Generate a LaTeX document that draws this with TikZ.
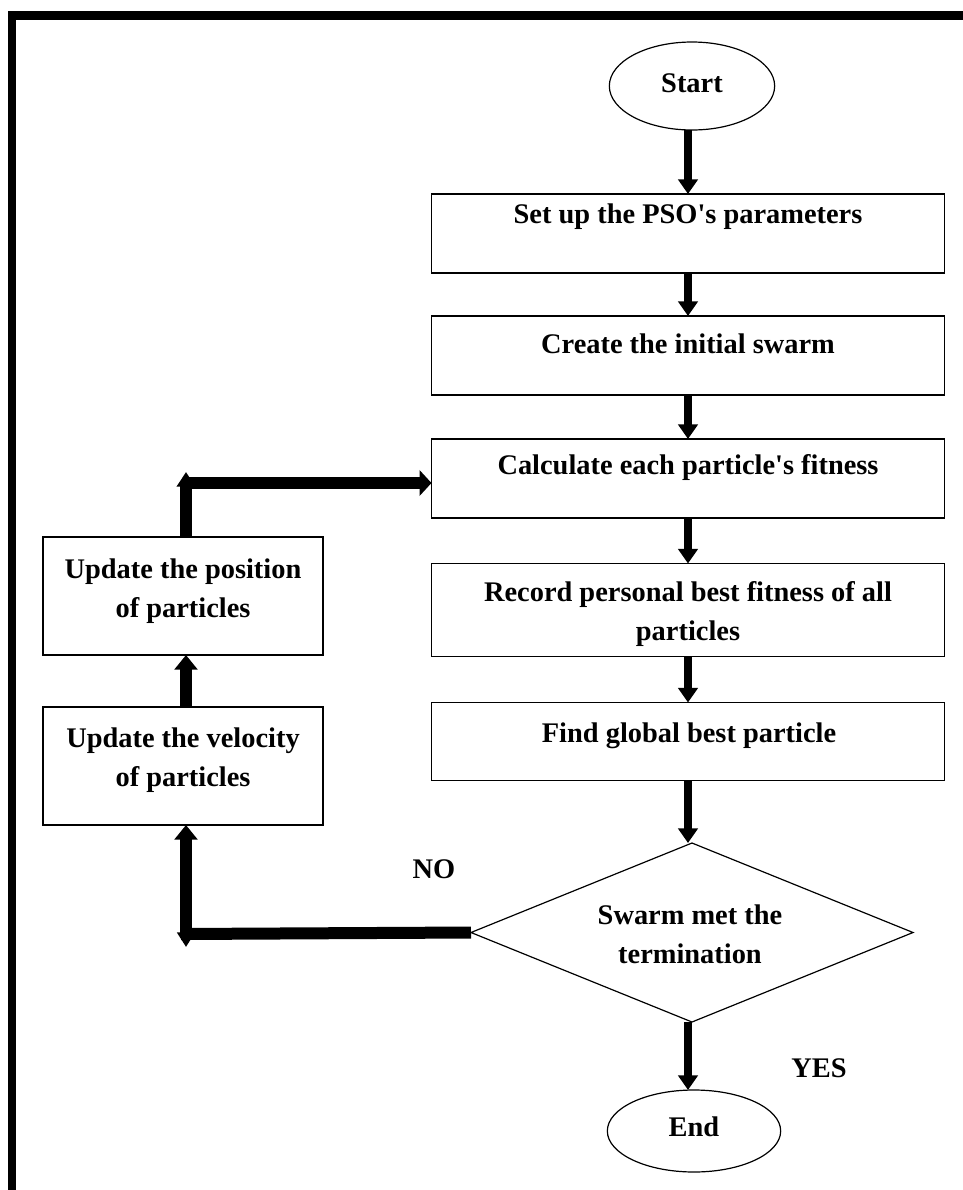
\documentclass[tikz,border=0pt]{standalone}
\usepackage{fontspec}
\setmainfont{Liberation Serif}
\usetikzlibrary{arrows.meta,shapes.geometric}

\begin{document}
\begin{tikzpicture}[x=0.75pt,y=-0.75pt,
  every node/.style={inner sep=0pt, outer sep=0pt},
  outline/.style={draw, line width=0.9pt},
  stepbox/.style={outline, rectangle, minimum width=384.75pt},
  sidebox/.style={outline, rectangle, minimum width=210pt, minimum height=88.5pt},
  terminal/.style={outline, ellipse},
  txt/.style={anchor=base, align=flush center, font=\fontsize{21.3pt}{29.3pt}\selectfont\bfseries},
  flow/.style={line width=6.5pt, -{Triangle[length=11pt,width=14.5pt]}},
  back/.style={line width=9pt, -{Triangle[length=11pt,width=17pt]}},
  backline/.style={line width=9pt}
]
\useasboundingbox (0,0) rectangle (963,1190);

% frame bars along the top and left edges
\fill (8,11) rectangle (963,20);
\fill (8,11) rectangle (16,1190);

% terminals
\node[terminal, minimum width=124pt, minimum height=66pt] (start) at (692,86) {};
\node[terminal, minimum width=130pt, minimum height=61.5pt] (stop) at (694,1131) {};

% process boxes of the main column
\node[stepbox, minimum height=59.25pt] (b1) at (688,233.5) {};
\node[stepbox, minimum height=59.25pt] (b2) at (688,355.5) {};
\node[stepbox, minimum height=59.25pt] (b3) at (688,478.5) {};
\node[stepbox, minimum height=69.75pt] (b4) at (688,610) {};
\node[stepbox, minimum height=58.5pt]  (b5) at (688,741.5) {};

% decision
\node[outline, diamond, minimum width=331.5pt, minimum height=134.25pt] (dec) at (692,932.5) {};

% update boxes on the left
\node[sidebox] (pos) at (183,596) {};
\node[sidebox] (vel) at (183,766) {};

% texts
\node[txt] (tstart) at (692,92) {Start};
\node[txt] (tend) at (694,1136) {End};
\node[txt] (t1) at (688,223) {Set up the PSO\textquotesingle s parameters};
\node[txt] (t2) at (688,353) {Create the initial swarm};
\node[txt] (t3) at (688,474) {Calculate each particle\textquotesingle s fitness};
\node[txt, text width=380pt] (t4) at (688,601) {Record personal best fitness of all\\particles};
\node[txt] (t5) at (689,742) {Find global best particle};
\node[txt, text width=200pt] (tdec) at (690,924) {Swarm met the\\termination};
\node[txt, text width=205pt] (tpos) at (183,578) {Update the position\\of particles};
\node[txt, text width=205pt] (tvel) at (183,747) {Update the velocity\\of particles};
\node[txt] (tno) at (434,878) {NO};
\node[txt] (tyes) at (819,1077) {YES};

% main flow
\draw[flow] (start.south -| b1.north) -- (b1.north);
\draw[flow] (b1.south) -- (b2.north);
\draw[flow] (b2.south) -- (b3.north);
\draw[flow] (b3.south) -- (b4.north);
\draw[flow] (b4.south) -- (b5.north);
\draw[flow] (b5.south) -- (b5.south |- dec.north);
\draw[flow] (b5.south |- dec.south) -- (b5.south |- stop.north);

% loop back on the NO branch
\coordinate (cbot) at (186,947);
\coordinate (ccorner) at (181,934);
\coordinate (ctop) at (186,472);
\coordinate (cturn) at (188,483);
\draw[backline] (dec.west) -- (ccorner);
\draw[back, {Triangle[length=11pt,width=13pt]}-{Triangle[length=11pt,width=17pt]}] (cbot) -- (cbot |- vel.south);
\draw[back] (cbot |- vel.north) -- (cbot |- pos.south);
\draw[back, -{Triangle[length=11pt,width=13.5pt]}] (ctop |- pos.north) -- (ctop);
\draw[back, -{Triangle[length=9pt,width=19pt]}] (cturn) -- (cturn -| b3.west);
\end{tikzpicture}
\end{document}
